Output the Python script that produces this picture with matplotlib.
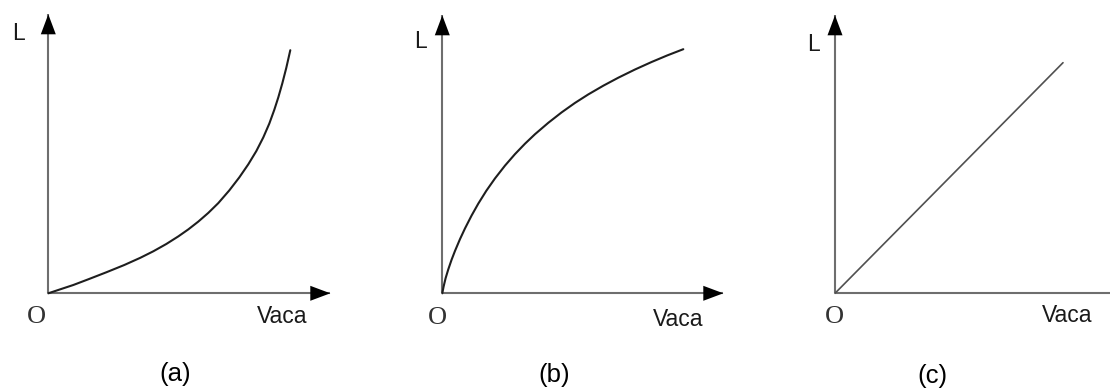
import numpy as np
import matplotlib
matplotlib.use('Agg')
from matplotlib import pyplot


#curve values (units: px from the origin O):
xa = [0, 12, 25, 40, 58, 76, 92, 105, 118, 130, 140, 150, 160, 170, 181, 191, 200, 208, 215, 221, 226, 230, 234, 238, 242]
ya = [0, 4, 8.3, 14, 21, 28.3, 35.5, 42, 49.3, 56.9, 63.9, 71.7, 80.4, 90.2, 102.9, 115.9, 129, 142.2, 155.9, 169.7, 183.5, 195.9, 209.9, 225.5, 243.1]

xb = [0, 1.3, 3.3, 6, 9.3, 12.7, 17.7, 22.7, 29.3, 36, 44, 52.7, 62.7, 72.7, 82.7, 92.7, 106, 119.3, 132.7, 146, 161, 176, 192.7, 209.3, 225, 241]
yb = [0, 6.7, 15.1, 24, 33.6, 42.4, 54.2, 64.9, 77.8, 89.7, 102.5, 114.9, 127.7, 139.2, 149.6, 159.1, 170.5, 180.9, 190.4, 198.9, 207.6, 215.6, 223.8, 231.3, 237.9, 244.1]

xc = [0, 228]
yc = [0, 230.6]

#axis lengths (x arrow tip, y arrow tip):
axis_len = [(282, 279), (281, 278), (280, 278)]
panels   = ['(a)', '(b)', '(c)']


#layout (pixels):
W, H     = 1110, 392
origins  = [(48.3, 293.3), (442.3, 293.3), (835.0, 293.3)]
lab_pos  = [  #L, O, Vaca, panel label
    [(-29.8, 259.8), (-11.6, -23.4), (233.4, -23.4), (126.7, -80.7)],
    [(-22.3, 251.6), (-4.8, -24.2), (236.0, -25.7), (111.7, -81.7)],
    [(-21.7, 249.3), (-1.0, -23.4), (232.5, -21.7), (97.5, -82.7)],
]
curves   = [(xa, ya, '#1e1e1e', 1.5), (xb, yb, '#1e1e1e', 1.5), (xc, yc, '#505050', 1.2)]

c_axis   = '#6e6e6e'
c_text   = '#1a1a1a'
sans     = ['Liberation Sans', 'DejaVu Sans']
serif    = ['Liberation Serif', 'DejaVu Serif']


pyplot.close('all')
fig = pyplot.figure(figsize=(W/100, H/100), dpi=100)

for i,(ox,oy) in enumerate(origins):
	x0, x1 = ox - 50, min(ox + 300, W)
	ax = fig.add_axes([x0/W, 0, (x1-x0)/W, 1])
	ax.set_xlim(x0 - ox, x1 - ox)
	ax.set_ylim(oy - H, oy)
	ax.set_axis_off()
	#axes with arrow heads:
	lx, ly = axis_len[i]
	ax.plot([0, lx], [0, 0], color=c_axis, lw=1.5, solid_capstyle='butt')
	ax.plot([0, 0], [0, ly], color=c_axis, lw=1.5, solid_capstyle='butt')
	for tip in [(lx, 0), (0, ly)]:
		ax.annotate('', xy=tip, xytext=(0, 0),
			arrowprops=dict(arrowstyle='-|>,head_length=14.4,head_width=5.4',
				color='black', lw=0, shrinkA=0, shrinkB=0, mutation_scale=1))
	#curve:
	x, y, c, lw = curves[i]
	ax.plot(x, y, color=c, lw=lw, solid_joinstyle='round', solid_capstyle='round')
	#labels:
	pL, pO, pV, pP = lab_pos[i]
	ax.text(*pL, 'L', family=sans, size=16.5, color=c_text, ha='center', va='center')
	ax.text(*pO, 'O', family=serif, size=19, color='#333333', ha='center', va='center')
	ax.text(*pV, 'Vaca', family=sans, size=16.5, color=c_text, ha='center', va='center')
	ax.text(*pP, panels[i], family=sans, size=18.5, color='black', ha='center', va='center')

pyplot.savefig('out.png', dpi=100)
